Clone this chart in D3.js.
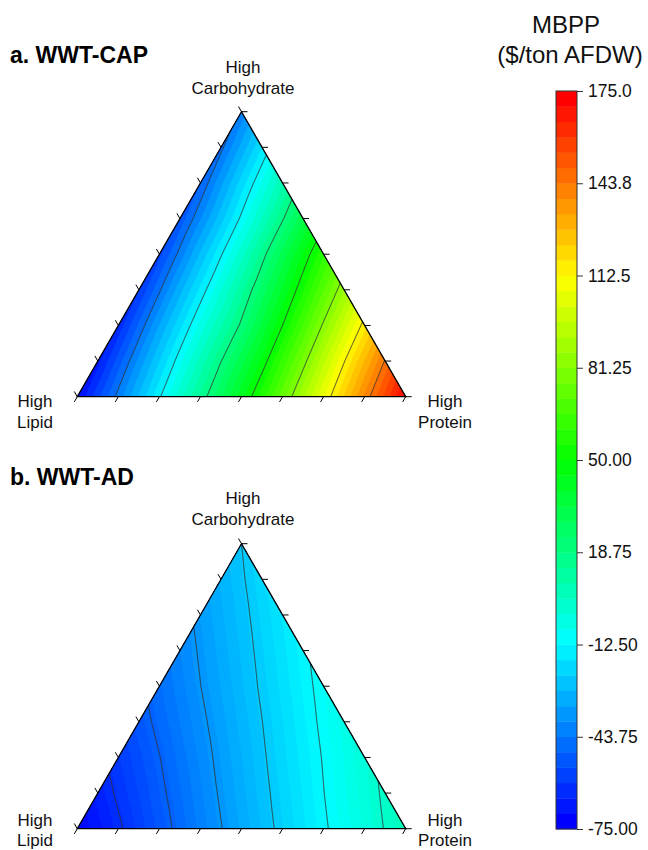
<!DOCTYPE html>
<html><head><meta charset="utf-8">
<script src="https://cdn.jsdelivr.net/npm/d3@7"></script>
<style>body{margin:0;background:#fff}text{font-family:Arial,"Liberation Sans",sans-serif}</style>
</head><body>
<svg id="c" width="648" height="850"></svg>
<script>
// ---- data ----
const vMin = -75, vMax = 175, nBands = 48;
const cbTickValues = [175, 143.75, 112.5, 81.25, 50, 18.75, -12.5, -43.75, -75];
const cbTickLabels = ["175.0","143.8","112.5","81.25","50.00","18.75","-12.50","-43.75","-75.00"];
const linesCAP = [-43.75, -12.5, 18.75, 50, 81.25, 112.5, 143.75];
const linesAD = [-62.5, -50, -37.5, -25, -12.5, 0];
// ternary grid values, rows from High Carbohydrate (top) to bottom edge; left = High Lipid, right = High Protein
const gridCAP = [
  [-42],
  [-45.5, -17.7],
  [-49, -20.6, 6.9],
  [-52.5, -25.1, 3.1, 32.75],
  [-56, -27.3, 0.8, 30.9, 59.5],
  [-59.5, -30, -2.7, 25.8, 54.8, 86.4],
  [-63, -33, -5.7, 20.4, 50, 82.6, 115.5],
  [-66.5, -37, -9.1, 18.5, 46, 78.3, 112, 144.5],
  [-70, -41.5, -13.4, 14.4, 42.3, 73.8, 106.9, 139.5, 172]
];
const gridAD = [
  [-25.0],
  [-30.4, -21.2],
  [-35.7, -26.9, -17.5],
  [-41.2, -32.2, -23.2, -13.8],
  [-46.8, -37.6, -28.6, -19.4, -10.1],
  [-52.8, -43.7, -34.4, -25.1, -15.7, -6.2],
  [-59.6, -50.2, -40.4, -30.8, -21.2, -12.0, -2.5],
  [-66.2, -56.6, -46.7, -36.6, -26.9, -17.4, -7.9, 1.3],
  [-72.6, -63.6, -53.2, -42.8, -32.8, -23.0, -13.6, -4.2, 5.0]
];
const panels = [
  {title: "a. WWT-CAP", grid: gridCAP, lines: linesCAP, sub: 1},
  {title: "b. WWT-AD", grid: gridAD, lines: linesAD, sub: 2}
];
const cornerTop = ["High", "Carbohydrate"], cornerLeft = ["High", "Lipid"], cornerRight = ["High", "Protein"];

// ---- layout ----
const svg = d3.select("#c");
const N = 8;
const layout = [
  {apexY: 111.7, baseY: 396.7, titleY: 63, topLab: 73, botLab: 407},
  {apexY: 543.7, baseY: 828.7, titleY: 485, topLab: 504, botLab: 826}
];
const xL = 77.3, xR = 405.7, xC = (xL + xR) / 2;
const colorMap = d3.scaleLinear().domain([0, .25, .5, .75, 1])
  .range(["#0000ff", "#00ffff", "#00ff00", "#ffff00", "#ff0000"]);
const step = (vMax - vMin) / nBands;
const bandColor = i => colorMap(i / (nBands - 1));

function interp(grid, u, v) {
  u = Math.max(0, Math.min(N - 1e-9, u));
  v = Math.max(0, Math.min(u, v));
  const r0 = Math.floor(u), k0 = Math.min(Math.floor(v), r0);
  const fu = u - r0, fv = v - k0;
  const A = grid[r0][k0], B = grid[r0 + 1][k0], C = grid[r0 + 1][k0 + 1];
  if (fv <= fu) return A + fu * (B - A) + fv * (C - B);
  const D = grid[r0][k0 + 1];
  return A + fv * (D - A) + fu * (C - D);
}

panels.forEach((p, pi) => {
  const L = layout[pi];
  const rowY = d3.scaleLinear().domain([0, N]).range([L.apexY, L.baseY]);
  const colX = d3.scaleLinear().domain([-N / 2, N / 2]).range([xL, xR]);
  const pt = (r, k) => [colX(k - r / 2), rowY(r)];
  const g = svg.append("g");
  const clipId = "clip" + pi;
  const tri = [pt(0, 0), pt(N, 0), pt(N, N)];
  svg.append("clipPath").attr("id", clipId).append("path")
    .attr("d", "M" + tri.map(d => d.join(",")).join("L") + "Z");

  // raster
  const pad = 3, res = 1;
  const x0 = xL - pad, y0 = L.apexY - pad;
  const w = Math.ceil((xR - xL + 2 * pad) / res) + 1, h = Math.ceil((L.baseY - L.apexY + 2 * pad) / res) + 1;
  const vals = new Float64Array(w * h);
  for (let j = 0; j < h; j++) {
    const y = y0 + j * res;
    const u = rowY.invert(y);
    for (let i = 0; i < w; i++) {
      const x = x0 + i * res;
      const v = colX.invert(x) + u / 2;
      vals[j * w + i] = interp(p.grid, u, v);
    }
  }
  const nb = nBands * p.sub, st = step / p.sub;
  const thr = d3.range(nb).map(i => i === 0 ? -1e9 : vMin + i * st);
  const cont = d3.contours().size([w, h]).thresholds(thr)(vals);
  const col = i => colorMap(i / (nb - 1));
  const path = d3.geoPath();
  const inner = g.append("g").attr("clip-path", `url(#${clipId})`)
    .append("g").attr("transform", `translate(${x0 - res / 2},${y0 - res / 2}) scale(${res})`);
  inner.selectAll("path.band").data(cont).join("path").attr("class", "band")
    .attr("d", path).attr("fill", (d, i) => col(i)).attr("stroke", (d, i) => col(i)).attr("stroke-width", 0.3);
  const lc = d3.contours().size([w, h]).thresholds(p.lines)(vals);
  inner.selectAll("path.line").data(lc).join("path").attr("class", "line")
    .attr("d", path).attr("fill", "none").attr("stroke", "#333").attr("stroke-width", 0.9);

  // outline
  g.append("path").attr("d", "M" + tri.map(d => d.join(",")).join("L") + "Z")
    .attr("fill", "none").attr("stroke", "#000").attr("stroke-width", 1.3).attr("stroke-linejoin", "miter");
  // ticks
  const tl = 6, c60 = 0.5, s60 = Math.sqrt(3) / 2;
  const ticks = [];
  d3.range(N + 1).forEach(i => {
    const b = pt(N, i); ticks.push([b, [b[0] - tl * c60, b[1] + tl * s60]]);
    const r = pt(i, i); ticks.push([r, [r[0] + tl, r[1]]]);
    const l = pt(i, 0); ticks.push([l, [l[0] - tl * c60, l[1] - tl * s60]]);
  });
  g.selectAll("line.tk").data(ticks).join("line").attr("class", "tk")
    .attr("x1", d => d[0][0]).attr("y1", d => d[0][1]).attr("x2", d => d[1][0]).attr("y2", d => d[1][1])
    .attr("stroke", "#000").attr("stroke-width", 1);

  // labels
  svg.append("text").attr("x", 10).attr("y", L.titleY).attr("font-size", 23).attr("font-weight", "bold").text(p.title);
  const lab = (arr, x, y, gap) => arr.forEach((s, i) => svg.append("text").attr("x", x).attr("y", y + i * gap)
    .attr("text-anchor", "middle").attr("font-size", 17).attr("fill", "#111").text(s));
  lab(cornerTop, xC + 1.5, L.topLab, 21);
  lab(cornerLeft, 35, L.botLab, pi === 1 ? 19.5 : 21);
  lab(cornerRight, 445, L.botLab, pi === 1 ? 19.5 : 21);
});

// ---- colorbar ----
const cbX = 556, cbW = 21, cbTop = 91, cbBot = 829;
const cbScale = d3.scaleLinear().domain([vMin, vMax]).range([cbBot, cbTop]);
const cb = svg.append("g");
cb.selectAll("rect").data(d3.range(nBands)).join("rect")
  .attr("x", cbX).attr("width", cbW)
  .attr("y", i => cbScale(vMin + (i + 1) * step))
  .attr("height", i => cbScale(vMin + i * step) - cbScale(vMin + (i + 1) * step) + 0.4)
  .attr("fill", i => bandColor(i));
cb.append("rect").attr("x", cbX).attr("y", cbTop).attr("width", cbW).attr("height", cbBot - cbTop)
  .attr("fill", "none").attr("stroke", "#333").attr("stroke-width", 1);
const axis = d3.axisRight(cbScale).tickValues(cbTickValues).tickSize(6).tickPadding(5)
  .tickFormat((d, i) => cbTickLabels[i]);
const ax = svg.append("g").attr("transform", `translate(${cbX + cbW},0)`).call(axis);
ax.select(".domain").remove();
ax.selectAll("text").attr("font-size", 17.5).attr("fill", "#111").attr("font-family", 'Arial,"Liberation Sans",sans-serif');
ax.selectAll("line").attr("stroke", "#333");
svg.append("text").attr("x", 566).attr("y", 33).attr("text-anchor", "middle").attr("font-size", 24).attr("fill", "#111").text("MBPP");
svg.append("text").attr("x", 570).attr("y", 63).attr("text-anchor", "middle").attr("font-size", 24).attr("fill", "#111").text("($/ton AFDW)");
</script>
</body></html>
